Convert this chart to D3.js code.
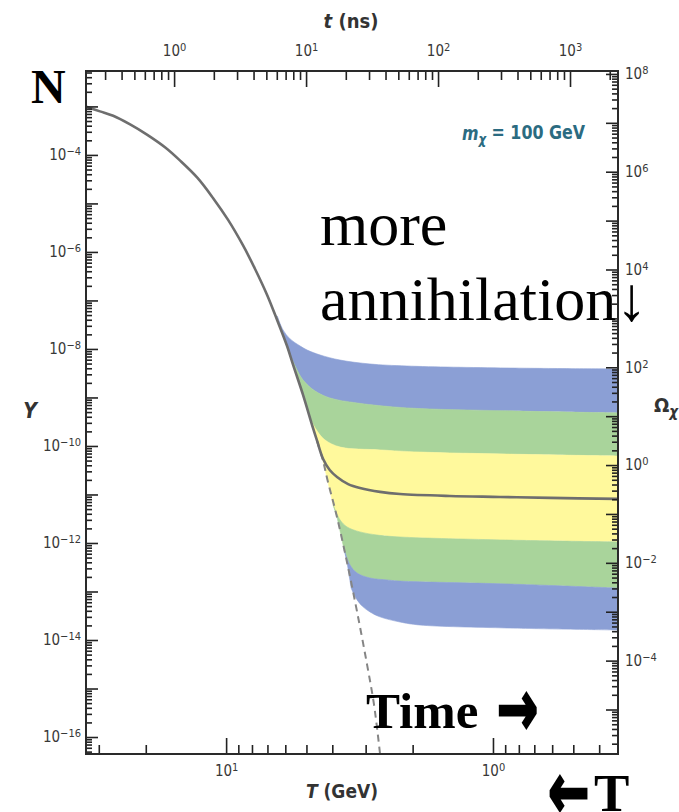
<!DOCTYPE html>
<html>
<head>
<meta charset="utf-8">
<script src="https://cdn.jsdelivr.net/npm/d3@7"></script>
<style>
  body { margin: 0; background: #fff; }
  svg { display: block; }
</style>
</head>
<body>
<svg id="chart" width="679" height="812"></svg>
<script>
// values: T in GeV, Y = comoving abundance
var eqT = [33.4, 29.7, 26.5, 22.9, 19.8, 16.9, 14.9, 12.8, 11.2, 9.83, 8.64, 7.79, 7.02, 6.44, 5.91, 5.61, 5.15, 4.72, 4.56, 4.33, 4.18, 3.84, 3.52, 3.23, 2.96, 2.79, 2.65];
var eqY = [9.8e-4, 7.9e-4, 6.4e-4, 4.25e-4, 2.62e-4, 1.42e-4, 7.7e-5, 3.36e-5, 1.30e-5, 4.57e-6, 1.36e-6, 4.46e-7, 1.30e-7, 3.96e-8, 1.15e-8, 4.7e-9, 1.13e-9, 2.3e-10, 1.26e-10, 4.9e-11, 2.1e-11, 3.4e-12, 3.9e-13, 3.8e-14, 3.0e-15, 4.6e-16, 4.5e-17];

// the thick solid relic curve after it leaves equilibrium
var relicT = [4.56, 4.33, 4.09, 3.84, 3.49, 3.15, 2.65, 2.23, 1.45, 0.94, 0.61, 0.343];
var relicY = [1.27e-10, 5.4e-11, 3.2e-11, 2.3e-11, 1.64e-11, 1.36e-11, 1.13e-11, 1.02e-11, 9.3e-12, 8.9e-12, 8.5e-12, 8.1e-12];

// band edges, from top to bottom
var edge0T = [6.44, 6.12, 5.76, 5.28, 4.97, 4.44, 3.74, 2.89, 2.10, 0.886, 0.343];
var edge0Y = [4.8e-8, 2.47e-8, 1.61e-8, 1.15e-8, 9.5e-9, 7.5e-9, 5.9e-9, 4.9e-9, 4.45e-9, 4.05e-9, 3.87e-9];
var edge1T = [5.86, 5.51, 5.15, 4.64, 4.09, 3.23, 2.10, 0.886, 0.343];
var edge1Y = [9.5e-9, 4.45e-9, 2.3e-9, 1.36e-9, 9.8e-10, 7.7e-10, 6.1e-10, 5.3e-10, 4.8e-10];
var edge2T = [5.10, 4.85, 4.56, 4.26, 3.74, 2.65, 1.88, 0.886, 0.343];
var edge2Y = [9.8e-10, 3.8e-10, 2.04e-10, 1.33e-10, 9.5e-11, 8.3e-11, 7.5e-11, 6.8e-11, 6.2e-11];
var edge3T = [3.97, 3.74, 3.52, 3.15, 2.72, 2.23, 0.886, 0.343];
var edge3Y = [6.1e-12, 2.98e-12, 2.14e-12, 1.69e-12, 1.46e-12, 1.33e-12, 1.15e-12, 1.05e-12];
var edge4T = [3.61, 3.43, 3.23, 2.89, 2.49, 2.23, 0.886, 0.343];
var edge4Y = [7.2e-13, 3.5e-13, 2.4e-13, 1.9e-13, 1.73e-13, 1.64e-13, 1.43e-13, 1.18e-13];
var edge5T = [3.40, 3.26, 3.09, 2.89, 2.65, 2.23, 1.88, 0.886, 0.343];
var edge5Y = [1.18e-13, 7.3e-14, 5.0e-14, 3.8e-14, 3.0e-14, 2.35e-14, 2.04e-14, 1.77e-14, 1.61e-14];

var bandColors = ["#8b9fd5", "#a9d49b", "#fff99c", "#a9d49b", "#8b9fd5"];

// axis ranges and labels
var tempDomain = [33.5, 0.34];
var timeDomain = [0.215, 2310];
var yDomain = [Math.pow(10, -2.27), Math.pow(10, -16.35)];
var omegaDomain = [Math.pow(10, 8.06), Math.pow(10, -5.91)];
var tempLabels = [1, 0];
var timeLabels = [0, 1, 2, 3];
var yLabels = [-4, -6, -8, -10, -12, -14, -16];
var omegaLabels = [8, 6, 4, 2, 0, -2, -4];

var SANS = '"Liberation Sans Narrow","DejaVu Sans Condensed","Roboto",sans-serif';
var SERIF = '"Liberation Serif","DejaVu Serif",serif';

var pL = 86, pR = 618, pT = 71, pB = 754;
var svg = d3.select("#chart");

var x = d3.scaleLog().domain(tempDomain).range([pL, pR]);
var xt = d3.scaleLog().domain(timeDomain).range([pL, pR]);
var y = d3.scaleLog().domain(yDomain).range([pT, pB]);
var yo = d3.scaleLog().domain(omegaDomain).range([pT, pB]);

function logTicks(dom, decades) {
  var lo = Math.min(dom[0], dom[1]), hi = Math.max(dom[0], dom[1]);
  var out = [];
  for (var e = Math.floor(Math.log10(lo)) - 1; e <= Math.ceil(Math.log10(hi)); e++) {
    for (var k = 1; k <= 9; k++) {
      if (decades ? k !== 1 : k === 1) continue;
      var v = k * Math.pow(10, e);
      if (v >= lo * 1.0001 && v <= hi / 1.0001) out.push(v);
    }
  }
  return out;
}

svg.append("defs").append("clipPath").attr("id", "plot")
  .append("rect").attr("x", pL).attr("y", pT)
  .attr("width", pR - pL).attr("height", pB - pT);

var g = svg.append("g").attr("clip-path", "url(#plot)");

function pts(T, Y) { return T.map(function (t, i) { return [x(t), y(Y[i])]; }); }
var smooth = d3.line().curve(d3.curveCatmullRom.alpha(0.5));

var edges = [[edge0T, edge0Y], [edge1T, edge1Y], [edge2T, edge2Y], [edge3T, edge3Y], [edge4T, edge4Y], [edge5T, edge5Y]];

function bandPath(up, lo) {
  var a = pts(up[0], up[1]);
  var b = pts(lo[0], lo[1]).reverse();
  var back = [];
  for (var i = eqT.length - 1; i >= 0; i--) {
    if (eqT[i] > lo[0][0] && eqT[i] < up[0][0]) back.push([x(eqT[i]), y(eqY[i])]);
  }
  var d = smooth(a) + smooth(b).replace(/^M/, "L");
  back.forEach(function (p) { d += "L" + p[0] + "," + p[1]; });
  return d + "Z";
}

for (var i = 0; i < 5; i++) {
  g.append("path").attr("d", bandPath(edges[i], edges[i + 1]))
    .attr("fill", bandColors[i]).attr("stroke", bandColors[i]).attr("stroke-width", 0.6);
}

var split = 4.56;
var eqPts = pts(eqT, eqY);
var solid = eqPts.filter(function (p, i) { return eqT[i] > split; }).concat(pts(relicT, relicY));
var dashed = eqPts.filter(function (p, i) { return eqT[i] <= split; });

g.append("path").attr("d", smooth(dashed)).attr("fill", "none")
  .attr("stroke", "#858585").attr("stroke-width", 2).attr("stroke-dasharray", "7,5");
g.append("path").attr("d", smooth(solid)).attr("fill", "none")
  .attr("stroke", "#6e6e6e").attr("stroke-width", 2.6);

// axes, ticks pointing into the plot
function sup(sel, exps, anchor) {
  sel.selectAll(".tick text").each(function (d) {
    var e = Math.round(Math.log10(d));
    var t = d3.select(this).text("");
    if (exps.indexOf(e) < 0) return;
    t.attr("text-anchor", anchor).attr("font-family", SANS).attr("font-size", 15).attr("fill", "#383838");
    t.append("tspan").text("10");
    t.append("tspan").attr("dy", "-0.45em").attr("font-size", 11).text(String(e).replace("-", "\u2212"));
  });
}

function axis(gen, transform, scale, majLen, minLen, pad, exps, anchor) {
  var dom = scale.domain();
  var gm = svg.append("g").attr("transform", transform)
    .call(gen(scale).tickValues(logTicks(dom, false)).tickSize(-minLen).tickSizeOuter(0).tickFormat(""));
  var gM = svg.append("g").attr("transform", transform)
    .call(gen(scale).tickValues(logTicks(dom, true)).tickSize(-majLen).tickSizeOuter(0).tickPadding(pad));
  [gm, gM].forEach(function (a) {
    a.select(".domain").remove();
    a.selectAll(".tick line").attr("stroke", "#222").attr("stroke-width", 1.6);
  });
  sup(gM, exps, anchor);
}

axis(d3.axisBottom, "translate(0," + pB + ")", x, 16, 9, 11, tempLabels, "middle");
axis(d3.axisTop, "translate(0," + pT + ")", xt, 16, 9, 15, timeLabels, "middle");
axis(d3.axisLeft, "translate(" + pL + ",0)", y, 12, 6, 5, yLabels, "end");
axis(d3.axisRight, "translate(" + pR + ",0)", yo, 12, 6, 7, omegaLabels, "start");

svg.append("rect").attr("x", pL).attr("y", pT)
  .attr("width", pR - pL).attr("height", pB - pT)
  .attr("fill", "none").attr("stroke", "#2a2a2a").attr("stroke-width", 2);

// axis titles
function title(xp, yp, parts, size, anchor) {
  var t = svg.append("text").attr("x", xp).attr("y", yp).attr("font-family", SANS)
    .attr("font-size", size).attr("font-weight", "bold").attr("fill", "#333")
    .attr("text-anchor", anchor || "middle");
  parts.forEach(function (p) {
    var s = t.append("tspan").text(p[0]);
    if (p[1]) s.attr("font-style", "italic");
    if (p[2]) s.attr("dy", p[2]).attr("font-size", size * 0.75);
  });
  return t;
}
title(351, 28, [["t", true], [" (ns)"]], 20);
title(342, 798, [["T", true], [" (GeV)"]], 19);
title(30, 418, [["Y", true]], 21);
title(654, 412, [["\u03a9"], ["\u03c7", true, "0.3em"]], 20, "start");

var mx = svg.append("text").attr("x", 462).attr("y", 140).attr("font-family", SANS)
  .attr("font-size", 19).attr("font-weight", "bold").attr("fill", "#2b6b81")
  .attr("textLength", 123).attr("lengthAdjust", "spacingAndGlyphs");
mx.append("tspan").attr("font-style", "italic").text("m");
mx.append("tspan").attr("font-style", "italic").attr("font-size", 14).attr("dy", "0.3em").text("\u03c7");
mx.append("tspan").attr("dy", "-0.3em").text(" = 100 GeV");

// slide annotations
function note(xp, yp, txt, size, bold) {
  return svg.append("text").attr("x", xp).attr("y", yp).attr("font-family", SERIF)
    .attr("font-size", size).attr("font-weight", bold ? "bold" : "normal")
    .attr("fill", "#000").text(txt);
}
// chunky arrows: the glyph stretched upward so its head is as tall as in the slide
function arrow(xp, yp, glyph) {
  return svg.append("text").attr("transform", "translate(" + xp + "," + yp + ") scale(0.95,1.5)")
    .attr("font-family", '"DejaVu Sans",sans-serif').attr("font-size", 52).attr("font-weight", "bold")
    .attr("stroke", "#000").attr("stroke-width", 1.8).attr("fill", "#000").text(glyph);
}
note(31, 103, "N", 48, true);
note(320, 245, "more", 62, false);
note(320, 320, "annihilation\u2193", 62, false);
note(366, 728, "Time", 51, true);
arrow(497, 735, "\u2192");
arrow(548, 818, "\u2190");
note(594, 811, "T", 53, true);
</script>
</body>
</html>
